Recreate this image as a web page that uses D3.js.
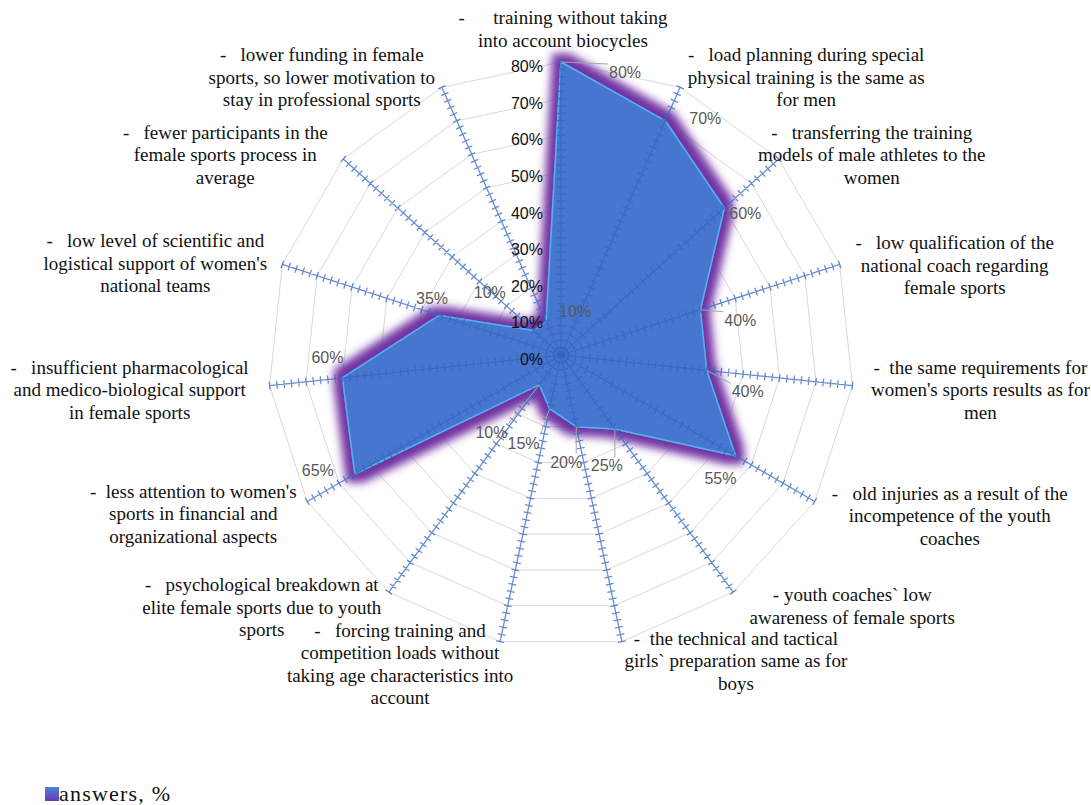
<!DOCTYPE html>
<html>
<head>
<meta charset="utf-8">
<script src="https://cdn.jsdelivr.net/npm/d3@7/dist/d3.min.js"></script>
<style>
  html, body { margin: 0; padding: 0; background: #ffffff; }
  svg { display: block; }
  .cat { font-size: 19px; fill: #111; white-space: pre; }
  .dl { font-size: 16px; fill: #595959; }
  .ax { font-size: 16px; fill: #111; }
  .lg { font-size: 22px; fill: #111; letter-spacing: 1.2px; }
</style>
</head>
<body>
<svg id="chart" width="1091" height="805"></svg>
<script>
// ---------- data ----------
const categories = [
  ["-      training without taking", "into account biocycles"],
  ["-   load planning during special", "physical training is the same as", "for men"],
  ["-   transferring the training", "models of male athletes to the", "women"],
  ["-   low qualification of the", "national coach regarding", "female sports"],
  ["-  the same requirements for", "women's sports results as for", "men"],
  ["-   old injuries as a result of the", "incompetence of the youth", "coaches"],
  ["- youth coaches` low", "awareness of female sports"],
  ["-  the technical and tactical", "girls` preparation same as for", "boys"],
  ["-   forcing training and", "competition loads without", "taking age characteristics into", "account"],
  ["-   psychological breakdown at", "elite female sports due to youth", "sports"],
  ["-  less attention to women's", "sports in financial and", "organizational aspects"],
  ["-   insufficient pharmacological", "and medico-biological support", "in female sports"],
  ["-   low level of scientific and", "logistical support of women's", "national teams"],
  ["-   fewer participants in the", "female sports process in", "average"],
  ["-   lower funding in female", "sports, so lower motivation to", "stay in professional sports"]
];
const values = [80, 70, 60, 40, 40, 55, 25, 20, 15, 10, 65, 60, 35, 10, 10];
const tickValues = [0, 10, 20, 30, 40, 50, 60, 70, 80];
const tickLabels = ["0%", "10%", "20%", "30%", "40%", "50%", "60%", "70%", "80%"];
const seriesName = "answers, %";

// ---------- layout ----------
const SERIF = "'Liberation Serif', 'Tinos', 'DejaVu Serif', serif";
const SANS = "'Liberation Sans', Arial, sans-serif";
const cx = 561, cy = 355, R = 293;
const n = categories.length;
const catOffsets = [
  [2, -44], [126, -32], [93, -26], [115, -21], [128, -18], [135, -8], [119, 3], [114, -3],
  [-100, -11], [-127, -7], [-114, -10], [-140, -18], [-127, -23], [-118, -26], [-120, -32]
];
const dlOffsets = [
  [64, 10], [40, -3], [21, 5], [40, 10], [41, 21], [-15, 22], [-8, 36], [-10, 35],
  [-26, 34], [-48, 47], [-37, -4], [-15, -21], [-7, -17], [-44, -38], [29, -11]
];
const leaderIdx = [0, 3, 4, 6, 7, 8, 9];
const lineH = 22.5;

const svg = d3.select("#chart");
const r = d3.scaleLinear().domain([0, 80]).range([0, R]);
const ang = d3.scaleLinear().domain([0, n]).range([0, 2 * Math.PI]);
const pt = (i, v) => [cx + r(v) * Math.sin(ang(i)), cy - r(v) * Math.cos(ang(i))];

// defs
const defs = svg.append("defs");
const f = defs.append("filter").attr("id", "glow")
  .attr("x", "-20%").attr("y", "-20%").attr("width", "140%").attr("height", "140%");
f.append("feMorphology").attr("in", "SourceAlpha").attr("operator", "dilate").attr("radius", 8).attr("result", "d");
f.append("feGaussianBlur").attr("in", "d").attr("stdDeviation", 4.5).attr("result", "b");
f.append("feFlood").attr("flood-color", "#7232A3").attr("result", "c");
f.append("feComposite").attr("in", "c").attr("in2", "b").attr("operator", "in").attr("result", "g");
const fm = f.append("feMerge");
fm.append("feMergeNode").attr("in", "g");
fm.append("feMergeNode").attr("in", "SourceGraphic");

const lg = defs.append("linearGradient").attr("id", "lgGrad").attr("x1", 0).attr("y1", 0).attr("x2", 0).attr("y2", 1);
lg.append("stop").attr("offset", "0%").attr("stop-color", "#4A86E0");
lg.append("stop").attr("offset", "100%").attr("stop-color", "#6A3AA8");

const g = svg.append("g").attr("transform", `translate(${cx},${cy})`);

// rings
const ringLine = d3.lineRadial().angle((d, i) => ang(i)).radius(d => r(d)).curve(d3.curveLinearClosed);
g.selectAll(".ring").data(tickValues.filter(v => v > 0)).join("path")
  .attr("class", "ring")
  .attr("d", v => ringLine(d3.range(n).map(() => v)))
  .attr("fill", "none").attr("stroke", "#d9d9d9").attr("stroke-width", 1);

// series polygon with glow
const areaLine = d3.lineRadial().angle((d, i) => ang(i)).radius(d => r(d)).curve(d3.curveLinearClosed);
g.append("path")
  .attr("d", areaLine(values))
  .attr("fill", "#4776CF")
  .attr("stroke", "#4DB3F2").attr("stroke-width", 1.5).attr("stroke-linejoin", "round")
  .attr("filter", "url(#glow)");

// spokes with cross ticks
const minorTicks = d3.range(0, 80.001, 2);
for (let i = 0; i < n; i++) {
  const a = ang(i);
  const ux = Math.sin(a), uy = -Math.cos(a);
  const px = -uy, py = ux;
  let d = `M0,0L${r(80) * ux},${r(80) * uy}`;
  minorTicks.forEach(v => {
    const x = r(v) * ux, y = r(v) * uy;
    d += `M${x - 4 * px},${y - 4 * py}L${x + 4 * px},${y + 4 * py}`;
  });
  g.append("path").attr("d", d)
    .attr("fill", "none").attr("stroke", "#3565C2").attr("stroke-opacity", 0.75).attr("stroke-width", 1.3);
}

// leader lines
leaderIdx.forEach(i => {
  const [vx, vy] = pt(i, values[i]);
  const lx = vx + dlOffsets[i][0], ly = vy + dlOffsets[i][1];
  const bx0 = lx - 17, bx1 = lx + 17, by0 = ly - 8, by1 = ly + 8;
  const nx = Math.max(bx0, Math.min(vx, bx1)), ny = Math.max(by0, Math.min(vy, by1));
  svg.append("path")
    .attr("d", `M${vx},${vy}L${nx},${ny}`)
    .attr("stroke", "#a6a6a6").attr("stroke-width", 1).attr("fill", "none");
});

// axis labels (value axis along first spoke)
svg.selectAll(".ax").data(tickValues).join("text")
  .attr("class", "ax").attr("font-family", SANS)
  .attr("x", cx - 18)
  .attr("y", v => cy - r(v) + 10)
  .attr("text-anchor", "end")
  .text((v, i) => tickLabels[i]);

// data labels
svg.selectAll(".dl").data(values).join("text")
  .attr("class", "dl").attr("font-family", SANS)
  .attr("x", (v, i) => pt(i, v)[0] + dlOffsets[i][0])
  .attr("y", (v, i) => pt(i, v)[1] + dlOffsets[i][1] + 6)
  .attr("text-anchor", "middle")
  .text(v => v + "%");

// category labels
categories.forEach((lines, i) => {
  const [ox, oy] = pt(i, 80);
  const t = svg.append("text").attr("class", "cat").attr("font-family", SERIF).attr("text-anchor", "middle");
  lines.forEach((ln, j) => {
    t.append("tspan")
      .attr("x", ox + catOffsets[i][0])
      .attr("y", oy + catOffsets[i][1] + j * lineH + 6)
      .text(ln);
  });
});

// legend
svg.append("rect").attr("x", 45).attr("y", 787).attr("width", 14).attr("height", 14).attr("fill", "url(#lgGrad)");
svg.append("text").attr("class", "lg").attr("font-family", SERIF).attr("x", 59).attr("y", 801).text(seriesName);
</script>
</body>
</html>
